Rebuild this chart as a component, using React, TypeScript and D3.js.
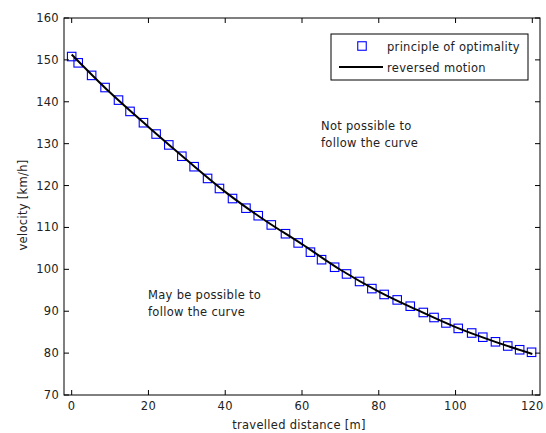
import React from "react";
import * as d3 from "d3";

const markerDistance = [0, 1.7, 5.2, 8.7, 12.2, 15.2, 18.7, 22.0, 25.3, 28.7, 31.9, 35.4, 38.5, 41.9, 45.4, 48.6, 52.0, 55.7, 59.0, 62.2, 65.1, 68.5, 71.6, 75.0, 78.2, 81.4, 84.8, 88.2, 91.6, 94.4, 97.5, 100.7, 104.2, 107.1, 110.4, 113.6, 116.7, 119.8];
const markerVelocity = [150.8, 149.3, 146.3, 143.4, 140.4, 137.7, 135.0, 132.3, 129.7, 127.0, 124.5, 121.7, 119.3, 116.9, 114.6, 112.8, 110.6, 108.5, 106.3, 104.1, 102.3, 100.5, 98.9, 97.1, 95.4, 94.0, 92.7, 91.2, 89.7, 88.5, 87.2, 85.9, 84.8, 83.8, 82.7, 81.7, 80.8, 80.2];

const lineDistance = [0, 10, 20, 30, 40, 50, 60, 70, 80, 90, 100, 110, 120];
const lineVelocity = [151.3, 142.2, 134.0, 126.1, 118.5, 111.9, 106.0, 99.9, 94.7, 90.3, 86.2, 82.8, 79.8];

const xTicks = [0, 20, 40, 60, 80, 100, 120];
const yTicks = [70, 80, 90, 100, 110, 120, 130, 140, 150, 160];

const W = 546;
const H = 433;
const left = 64, right = 540, top = 18, bottom = 395;
const FONT = "'DejaVu Sans', sans-serif";
const TC = "#222";
const FS = 11.5;
const LS = 0.3;

export default function App() {
  const x = d3.scaleLinear().domain([-2, 122]).range([left, right]);
  const y = d3.scaleLinear().domain([70, 160]).range([bottom, top]);
  const line = d3
    .line<number>()
    .x((_, i) => x(lineDistance[i]))
    .y((d) => y(d))
    .curve(d3.curveMonotoneX);
  const ms = 8.5;
  const tl = 5;

  return (
    <svg
      width={W}
      height={H}
      style={{ position: "absolute", left: 0, top: 0, background: "#fff" }}
      fontFamily={FONT}
      letterSpacing={LS}
    >
      <rect x={0} y={0} width={W} height={H} fill="#fff" />

      {/* markers */}
      {markerDistance.map((d, i) => (
        <rect
          key={i}
          x={x(d) - ms / 2}
          y={y(markerVelocity[i]) - ms / 2}
          width={ms}
          height={ms}
          fill="none"
          stroke="#0000ff"
          strokeWidth={1.1}
        />
      ))}
      {/* line */}
      <path d={line(lineVelocity) || ""} fill="none" stroke="#000" strokeWidth={2} />

      {/* axes box */}
      <rect x={left} y={top} width={right - left} height={bottom - top} fill="none" stroke="#000" strokeWidth={1} />

      {/* x ticks */}
      {xTicks.map((t) => (
        <g key={"x" + t}>
          <line x1={x(t)} x2={x(t)} y1={bottom} y2={bottom - tl} stroke="#000" />
          <line x1={x(t)} x2={x(t)} y1={top} y2={top + tl} stroke="#000" />
          <text x={x(t)} y={410} textAnchor="middle" fontSize={FS} fill={TC}>
            {t}
          </text>
        </g>
      ))}
      {/* y ticks */}
      {yTicks.map((t) => (
        <g key={"y" + t}>
          <line x1={left} x2={left + tl} y1={y(t)} y2={y(t)} stroke="#000" />
          <line x1={right} x2={right - tl} y1={y(t)} y2={y(t)} stroke="#000" />
          <text x={59} y={y(t) + 4} textAnchor="end" fontSize={FS} fill={TC}>
            {t}
          </text>
        </g>
      ))}

      {/* axis labels */}
      <text x={299} y={429} textAnchor="middle" fontSize={FS} fill={TC}>
        travelled distance [m]
      </text>
      <text
        transform={`translate(27,${205}) rotate(-90)`}
        textAnchor="middle"
        fontSize={FS}
        fill={TC}
      >
        velocity [km/h]
      </text>

      {/* annotations */}
      <text x={321} y={129.5} fontSize={FS} fill={TC}>Not possible to</text>
      <text x={321} y={146.5} fontSize={FS} fill={TC}>follow the curve</text>
      <text x={148} y={299} fontSize={FS} fill={TC}>May be possible to</text>
      <text x={148} y={316} fontSize={FS} fill={TC}>follow the curve</text>

      {/* legend */}
      <rect x={331} y={34} width={197} height={46} fill="#fff" stroke="#000" strokeWidth={1} />
      <rect x={362 - ms / 2} y={46 - ms / 2} width={ms} height={ms} fill="none" stroke="#0000ff" strokeWidth={1.1} />
      <line x1={339} x2={383} y1={67} y2={67} stroke="#000" strokeWidth={2} />
      <text x={387} y={50.5} fontSize={FS} fill={TC}>principle of optimality</text>
      <text x={387} y={71.5} fontSize={FS} fill={TC}>reversed motion</text>
    </svg>
  );
}
